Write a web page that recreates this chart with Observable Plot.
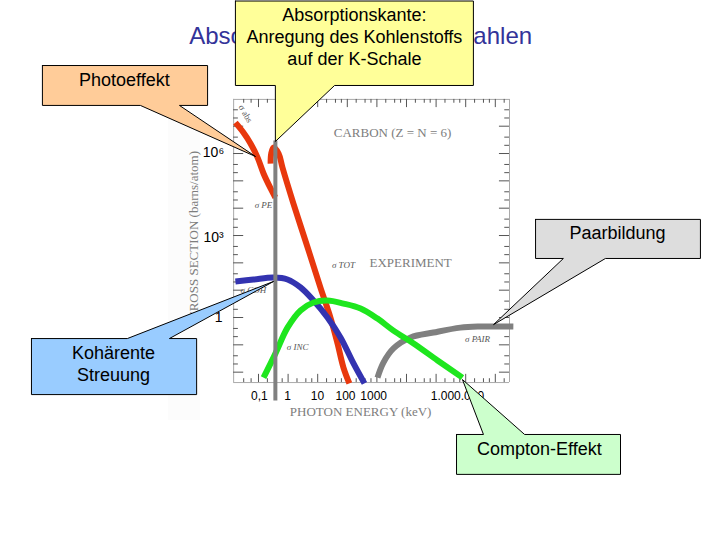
<!DOCTYPE html>
<html><head><meta charset="utf-8">
<style>html,body{margin:0;padding:0;background:#fff}svg{display:block}</style>
<script src="https://cdn.jsdelivr.net/npm/d3@7"></script>
<script src="https://cdn.jsdelivr.net/npm/@observablehq/plot@0.6"></script>
</head><body><script>
// All values are decades: log10(keV) and log10(barns/atom)
const photoLowX=[-1.78,-1.51,-1.27,-1.03,-.83,-.59,-.43];
const photoLowY=[7.13,6.77,6.37,5.85,5.27,4.72,4.39];
const photoHighX=[-.59,-.57,-.49,-.32,-.19,.18,.66,1.09,1.43,1.67,1.87,2.07];
const photoHighY=[5.63,6.0,6.22,6.0,5.49,4.17,2.56,1.10,0,-.95,-1.83,-2.41];
const coherentX=[-1.78,-1.17,-.49,-.02,.42,.86,1.33,1.77,2.21,2.58];
const coherentY=[1.32,1.39,1.46,1.39,1.10,.62,0,-.73,-1.68,-2.41];
const comptonX=[-.83,-.43,-.02,.42,.86,1.33,1.87,2.45,3.02,3.56,4.24,5.05,5.89];
const comptonY=[-2.20,-1.32,-.37,.26,.55,.62,.51,.33,-.04,-.48,-.95,-1.57,-2.20];
const pairX=[3.02,3.22,3.56,4.14,4.91,5.82,6.5,7.61];
const pairY=[-2.20,-1.65,-1.13,-.73,-.55,-.37,-.33,-.33];
const edgeX=[-.43,-.43];
const edgeY=[6.48,-3.04];

const xTickLabels=["0,1","1","10","100","1000","1.000.000"];
const xTickAt=[-.97,-.02,.99,1.94,2.89,5.72];
const yTickLabels=["10⁶","10³","1"];
const yTickAt=[6.04,2.93,0];
const yTickX=[-2.52,-2.52,-2.35];

const frameX=[-1.84,7.48];
const frameY=[-2.38,7.98];
const frameMajorX=[-1,0,1,2,3,4,5,6,7];
const frameMinorX=[-1.5,-1.25,-.7,-.4,-.2,.3,.6,.8,1.3,1.6,1.8,2.3,2.6,2.8,3.3,3.6,3.8,4.3,4.6,4.8,5.3,5.6,5.8,6.3,6.6,6.8,7.3];
const frameMajorY=[-2,-1,0,1,2,3,4,5,6,7];
const frameMinorY=[-1.7,-1.4,-.7,-.4,.3,.6,1.3,1.6,2.3,2.6,3.3,3.6,4.3,4.6,5.3,5.6,6.3,6.6,7.3,7.6];

const paperLabels=["CARBON (Z = N = 6)","EXPERIMENT","PHOTON ENERGY (keV)"];
const paperX=[3.53,4.14,2.45];
const paperY=[6.77,2.01,-3.44];
const sigmaLabels=["σ PE","σ COH","σ INC","σ PAIR","σ TOT"];
const sigmaX=[-.83,-1.17,.32,6.40,1.87];
const sigmaY=[4.10,1.02,-1.10,-.80,1.90];

const photoBoxX=[-8.30,-2.72,-2.72,-3.67,-1.10,-4.99,-8.30,-8.30];
const photoBoxY=[9.22,9.22,7.76,7.76,5.89,7.76,7.76,9.22];
const edgeBoxX=[-1.78,6.26,6.26,1.57,-.43,-.43,-1.78,-1.78];
const edgeBoxY=[11.58,11.58,8.49,8.49,6.44,8.49,8.49,11.58];
const cohBoxX=[-8.67,-5.43,-.49,-4.01,-3.09,-3.09,-8.67,-8.67];
const cohBoxY=[-.77,-.77,1.32,-.77,-.77,-2.82,-2.82,-.77];
const comptonBoxX=[5.69,6.60,5.89,7.99,11.23,11.23,5.69,5.69];
const comptonBoxY=[-4.28,-4.28,-2.27,-4.28,-4.28,-5.74,-5.74,-4.28];
const pairBoxX=[8.36,13.93,13.93,10.72,6.94,9.30,8.36,8.36];
const pairBoxY=[3.59,3.59,2.16,2.16,-.26,2.16,2.16,3.59];

const calloutText=["Absorptionskante:","Anregung des Kohlenstoffs","auf der K-Schale","Photoeffekt","Paarbildung","Kohärente","Streuung","Compton-Effekt"];
const calloutTextX=[2.24,2.24,2.24,-5.53,11.13,-5.90,-5.90,8.49];
const calloutTextY=[11.07,10.26,9.46,8.67,3.07,-1.32,-2.12,-4.83];

const e=d=>10**d;
const series=(xs,ys)=>xs.map((x,i)=>({x:e(x),y:e(ys[i])}));
const labelled=(ts,xs,ys)=>ts.map((t,i)=>({t,x:e(xs[i]),y:e(ys[i])}));
const curve=(xs,ys,stroke,w=6)=>Plot.line(series(xs,ys),{x:"x",y:"y",stroke,strokeWidth:w,curve:"catmull-rom",strokeLinecap:"butt"});
const box=(xs,ys,fill)=>Plot.line(series(xs,ys),{x:"x",y:"y",fill,stroke:"#000",strokeWidth:1,strokeLinejoin:"miter"});
const paperInk="#7d7d7d";
const xFrame=[e(frameX[0]),e(frameX[1])], yFrame=[e(frameY[0]),e(frameY[1])];
const tickX=(vals,len)=>[
  Plot.ruleX(vals.map(v=>e(v)),{y1:()=>yFrame[0],y2:()=>e(frameY[0]+len),stroke:"#555",strokeWidth:1}),
  Plot.ruleX(vals.map(v=>e(v)),{y1:()=>yFrame[1],y2:()=>e(frameY[1]-len),stroke:"#555",strokeWidth:1})];
const tickY=(vals,len)=>[
  Plot.ruleY(vals.map(v=>e(v)),{x1:()=>xFrame[0],x2:()=>e(frameX[0]+len),stroke:"#555",strokeWidth:1}),
  Plot.ruleY(vals.map(v=>e(v)),{x1:()=>xFrame[1],x2:()=>e(frameX[1]-len),stroke:"#555",strokeWidth:1})];

const chart=Plot.plot({
  width:720,height:540,margin:0,
  style:{background:"#fff",fontFamily:"'Liberation Sans',Arial,sans-serif"},
  x:{type:"log",domain:[e(-9.716),e(14.608)],range:[0,720],axis:null},
  y:{type:"log",domain:[e(-8.159),e(11.599)],range:[540,0],axis:null},
  marks:[
    Plot.rect([{x1:e(-4.04),x2:e(-2.96),y1:e(-3.77),y2:e(7.57)}],{x1:"x1",x2:"x2",y1:"y1",y2:"y2",fill:"#fcfcfc"}),
    Plot.text([{t:"Absorption von Röntgenstrahlen",x:e(2.45),y:e(10.28)}],{x:"x",y:"y",text:"t",fontSize:24,fill:"#333399"}),
    // scanned plot frame
    Plot.ruleX(xFrame,{y1:()=>yFrame[0],y2:()=>yFrame[1],stroke:"#aaa",strokeWidth:1}),
    Plot.ruleY(yFrame,{x1:()=>xFrame[0],x2:()=>xFrame[1],stroke:"#aaa",strokeWidth:1}),
    ...tickX(frameMajorX,.3),...tickX(frameMinorX,.14),
    ...tickY(frameMajorY,.34),...tickY(frameMinorY,.16),
    Plot.text(labelled(paperLabels,paperX,paperY),{x:"x",y:"y",text:"t",fontSize:13,fontFamily:"'Liberation Serif',serif",fill:paperInk}),
    Plot.text(labelled(sigmaLabels,sigmaX,sigmaY),{x:"x",y:"y",text:"t",fontSize:9,fontFamily:"'Liberation Serif',serif",fontStyle:"italic",fill:"#555"}),
    Plot.text([{t:"σ abs",x:e(-1.44),y:e(7.46)}],{x:"x",y:"y",text:"t",rotate:60,fontSize:9,fontFamily:"'Liberation Serif',serif",fill:"#555"}),
    Plot.text([{t:"CROSS SECTION (barns/atom)",x:e(-3.20),y:e(3.0)}],{x:"x",y:"y",text:"t",rotate:-90,fontSize:13,fontFamily:"'Liberation Serif',serif",fill:paperInk}),
    // tick labels
    Plot.text(labelled(xTickLabels,xTickAt,xTickAt.map(()=>-2.89)),{x:"x",y:"y",text:"t",fontSize:12,fill:"#000"}),
    Plot.text(labelled(yTickLabels,yTickX,yTickAt),{x:"x",y:"y",text:"t",fontSize:14,fill:"#000"}),
    // curves
    curve(photoLowX,photoLowY,"#e8380d"),
    curve(photoHighX,photoHighY,"#e8380d"),
    curve(coherentX,coherentY,"#3333b0"),
    curve(pairX,pairY,"#808080"),
    curve(comptonX,comptonY,"#1ee61e"),
    curve(edgeX,edgeY,"#808080",4),
    // callouts
    box(photoBoxX,photoBoxY,"#FFCC99"),
    box(edgeBoxX,edgeBoxY,"#FFFF99"),
    box(cohBoxX,cohBoxY,"#99CCFF"),
    box(comptonBoxX,comptonBoxY,"#CCFFCC"),
    box(pairBoxX,pairBoxY,"#DDDDDD"),
    Plot.text(labelled(calloutText,calloutTextX,calloutTextY),{x:"x",y:"y",text:"t",fontSize:18,fill:"#000"})
  ]
});
document.body.append(chart);
</script></body></html>
